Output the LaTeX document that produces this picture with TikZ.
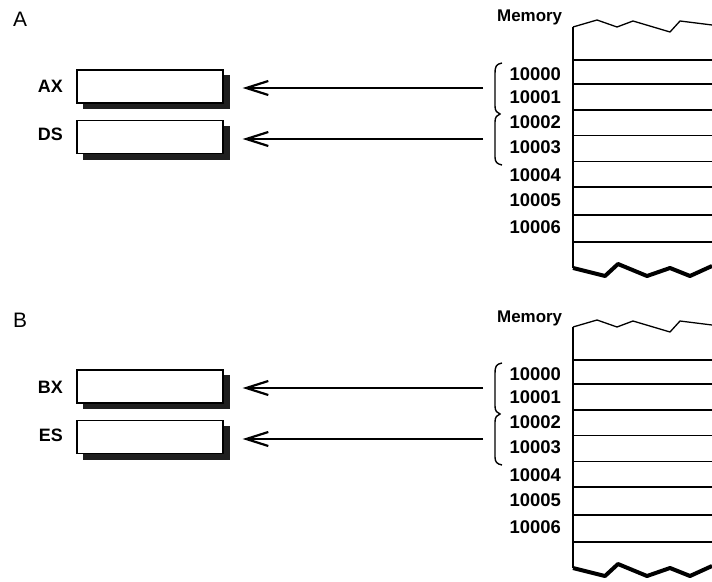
\documentclass[tikz,border=0pt]{standalone}
\usepackage{fontspec}
\setmainfont{Liberation Sans}
\usetikzlibrary{arrows.meta}
\begin{document}
\begin{tikzpicture}[x=1bp,y=-1bp,
  regbox/.style={draw=black,fill=white,line width=1.3bp,minimum width=146bp,minimum height=33bp,inner sep=0pt},
  reglabel/.style={font=\fontsize{18}{18}\selectfont\bfseries,inner sep=0pt,anchor=base east},
  addr/.style={font=\fontsize{18.5}{18.5}\selectfont\bfseries,inner sep=0pt,anchor=east},
  memlabel/.style={font=\fontsize{17}{17}\selectfont\bfseries,inner sep=0pt,anchor=base west},
  panellabel/.style={font=\fontsize{21}{21}\selectfont,inner sep=0pt,anchor=base west},
  shade/.style={fill=black!88},
  memline/.style={line width=1.3bp},
  botline/.style={line width=4bp,line join=round},
  arr/.style={line width=2.2bp,-{Straight Barb[length=22bp,width=14bp,line width=2.2bp]}},
  brace/.style={line width=1.4bp}]
\useasboundingbox (0,0) rectangle (712,582);
\foreach \off/\pl/\ra/\rb/\s in {0/A/AX/DS/a,300/B/BX/ES/b}{
 \begin{scope}[shift={(0,\off)}]
  \node[panellabel] (p\s) at (13,27) {\pl};
  % registers
  \fill[shade] (83,75) rectangle (230,109);
  \fill[shade] (83,126) rectangle (230,160);
  \node[regbox] (r1\s) at (150,86.5) {};
  \node[regbox] (r2\s) at (150,137) {};
  \node[reglabel] (l1\s) at (63,93) {\ra};
  \node[reglabel] (l2\s) at (63,141) {\rb};
  % memory
  \node[memlabel] (m\s) at (497,22) {Memory};
  \draw[memline] (573,27) -- (573,268);
  \foreach \yy in {60,84,110,135.5,161.5,187,215,242}
    \draw[memline] (573,\yy) -- (712,\yy);
  \draw[memline,line join=round] (573,27) -- (597,20) -- (617,27) -- (633,21) -- (670,32) -- (680,21) -- (712,25);
  \draw[botline] (573,268) -- (605,276) -- (618,264) -- (647,276) -- (670,268) -- (690,276) -- (712,266);
  \foreach \n/\yy in {10000/74,10001/97.5,10002/122,10003/147,10004/175,10005/200,10006/227}
    \node[addr] (a\n\s) at (561,\yy) {\n};
  % braces
  \draw[brace] (502,63) .. controls (496,64) and (495,67) .. (495,73) -- (495,106)
     .. controls (495,111) and (497,113) .. (500,114)
     .. controls (497,115) and (495,117) .. (495,122) -- (495,157)
     .. controls (495,162) and (497,164) .. (502,165);
  % arrows
  \coordinate (s1\s) at (483,88);
  \coordinate (s2\s) at (483,139);
  \draw[arr,shorten >=19bp] (s1\s) -- (s1\s -| r1\s.east);
  \draw[arr,shorten >=19bp] (s2\s) -- (s2\s -| r2\s.east);
 \end{scope}
}
\end{tikzpicture}
\end{document}
